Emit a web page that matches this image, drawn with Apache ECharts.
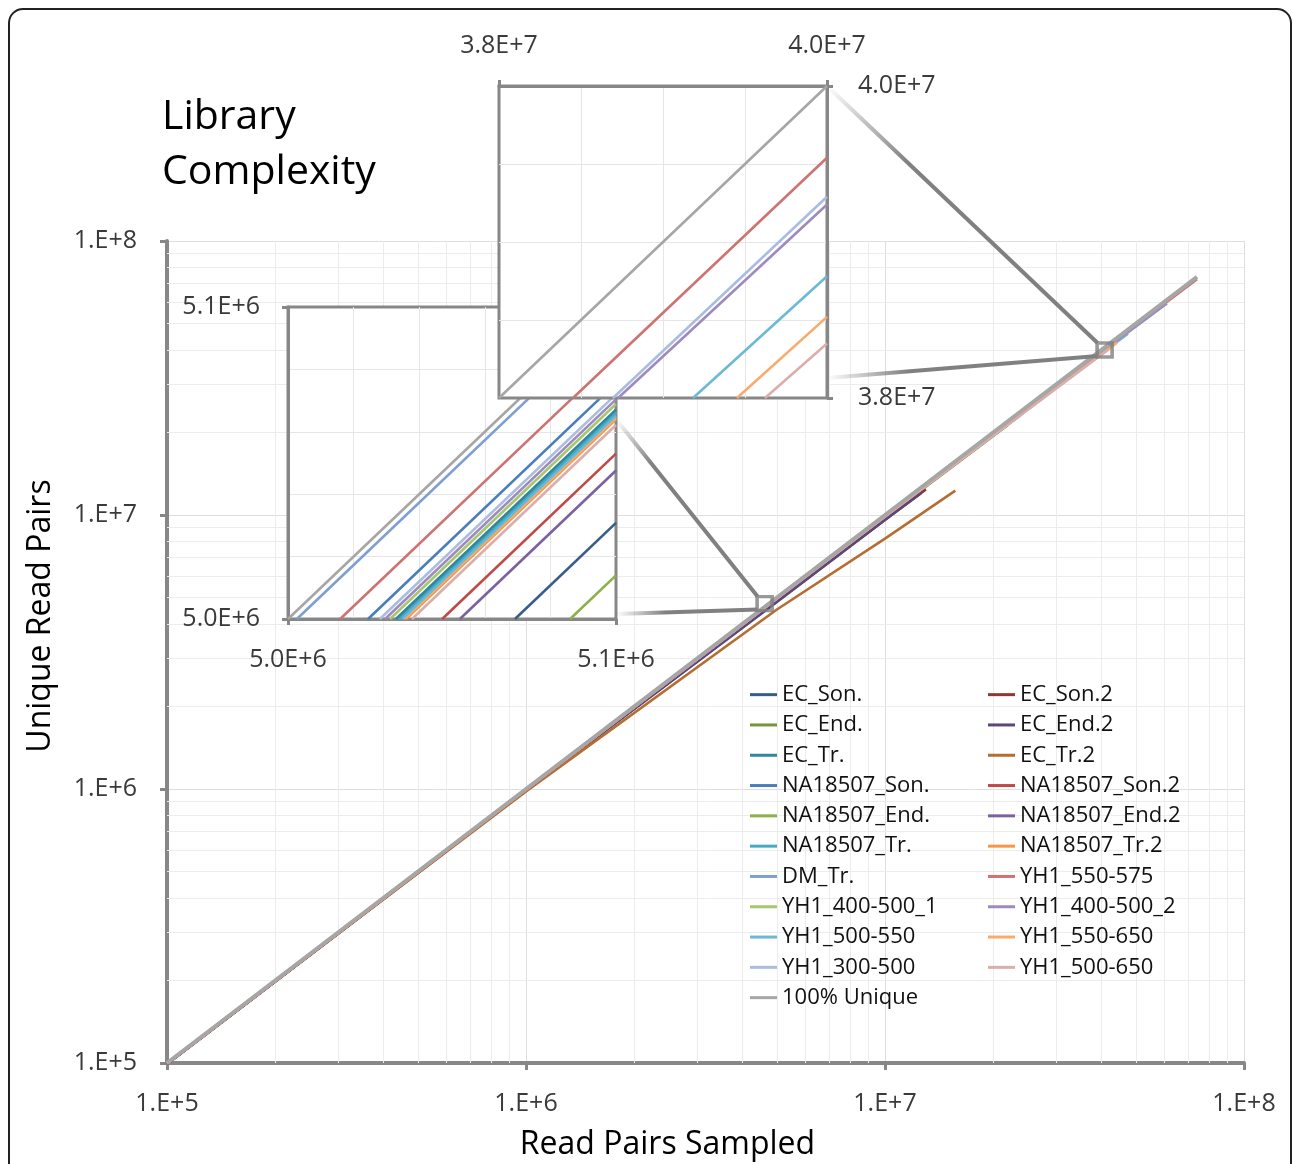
<!DOCTYPE html>
<html>
<head>
<meta charset="utf-8">
<title>Library Complexity</title>
<script src="https://cdn.jsdelivr.net/npm/echarts@6/dist/echarts.min.js"></script>
<style>
  html, body { margin: 0; padding: 0; background: #fff; }
  #chart { width: 1293px; height: 1164px; }
</style>
</head>
<body>
<div id="chart"></div>
<script>
// legend order: column 1 then column 2
const seriesNames = [
  'EC_Son.', 'EC_End.', 'EC_Tr.', 'NA18507_Son.', 'NA18507_End.', 'NA18507_Tr.',
  'DM_Tr.', 'YH1_400-500_1', 'YH1_500-550', 'YH1_300-500', '100% Unique',
  'EC_Son.2', 'EC_End.2', 'EC_Tr.2', 'NA18507_Son.2', 'NA18507_End.2', 'NA18507_Tr.2',
  'YH1_550-575', 'YH1_400-500_2', 'YH1_550-650', 'YH1_500-650'
];
const seriesColors = [
  '#385d8a', '#77933c', '#31859c', '#4a7ebb', '#8db04a', '#46aac5',
  '#7d9fd3', '#a6c76e', '#6cb9d5', '#aabde0', '#a6a6a6',
  '#8c3836', '#5c4776', '#b66d31', '#be4b48', '#7d60a0', '#f79646',
  '#cd7371', '#9e8bbe', '#f9ab6e', '#dbaeac'
];

// [read pairs sampled, unique read pairs], same order as seriesNames
const curves = [
  [[1e5, 99400], [1e6, 993000], [5e6, 4931000], [1e7, 9820000], [1.1e7, 10790000]],
  [[1e5, 99200], [1e6, 990000], [5e6, 4870000], [9.5e6, 9180000]],
  [[1e5, 99600], [1e6, 995500], [5e6, 4967000], [1e7, 9890000], [1.4e7, 13800000]],
  [[1e5, 99800], [1e6, 997500], [5e6, 4976000], [1e7, 9905000], [2.6e7, 25500000]],
  [[1e5, 99300], [1e6, 992000], [5e6, 4914000], [1e7, 9800000], [2.2e7, 21300000]],
  [[1e5, 99700], [1e6, 996500], [5e6, 4967000], [1e7, 9900000], [3.0e7, 29300000]],
  [[1e5, 99990], [1e6, 999500], [5e6, 4997300], [1e7, 9990000], [2.4e7, 23900000]],
  [[1e5, 99700], [1e6, 996800], [5e6, 4968000], [1e7, 9900000], [3.4e7, 33100000]],
  [[1e5, 99700], [1e6, 996500], [5e6, 4966000], [1e7, 9890000], [4e7, 38780000], [4.75e7, 45900000]],
  [[1e5, 99750], [1e6, 997000], [5e6, 4972000], [1e7, 9920000], [4e7, 39290000], [5.6e7, 54600000]],
  [[1e5, 1e5], [1e6, 1e6], [1e7, 1e7], [7.4e7, 7.4e7]],
  [[1e5, 99000], [1e6, 988000], [5e6, 4850000], [1e7, 9620000], [1.3e7, 12400000]],
  [[1e5, 99300], [1e6, 990000], [5e6, 4820000], [1e7, 9590000], [1.26e7, 12000000]],
  [[1e5, 99800], [1e6, 980000], [5e6, 4520000], [1e7, 8200000], [1.57e7, 12270000]],
  [[1e5, 99600], [1e6, 995000], [5e6, 4953000], [1e7, 9880000], [2.8e7, 27200000]],
  [[1e5, 99500], [1e6, 994500], [5e6, 4948000], [1e7, 9860000], [2.4e7, 23300000]],
  [[1e5, 99700], [1e6, 996400], [5e6, 4964000], [1e7, 9890000], [3.2e7, 31200000]],
  [[1e5, 99900], [1e6, 998400], [5e6, 4984000], [1e7, 9960000], [4e7, 39540000], [7.4e7, 72500000]],
  [[1e5, 99700], [1e6, 997000], [5e6, 4970000], [1e7, 9915000], [4e7, 39240000], [6.1e7, 59200000]],
  [[1e5, 99650], [1e6, 996500], [5e6, 4965000], [1e7, 9880000], [4e7, 38520000], [4.43e7, 42500000]],
  [[1e5, 99600], [1e6, 996000], [5e6, 4962000], [1e7, 9870000], [4e7, 38350000], [4.2e7, 40200000]]
];

// zoom 1: 5.0E+6 .. 5.1E+6
const zoom1Range = [5.0e6, 5.1e6];
const zoom1Names = ['NA18507_End.', 'EC_Son.', 'NA18507_End.2', 'NA18507_Son.2', 'YH1_500-650',
  'NA18507_Tr.2', 'YH1_550-650', 'YH1_500-550', 'NA18507_Tr.', 'EC_Tr.', 'YH1_400-500_1',
  'YH1_400-500_2', 'YH1_300-500', 'NA18507_Son.', 'YH1_550-575', 'DM_Tr.', '100% Unique'];
const zoom1StartReads = [5086000, 5069200, 5052400, 5047000, 5037800,
  5036000, 5035400, 5034800, 5033800, 5032900, 5031100,
  5029600, 5028000, 5024400, 5015900, 5002700, 5000000];
const zoom1EndUnique = [5014000, 5030800, 5047600, 5053000, 5062200,
  5064000, 5064600, 5065200, 5066200, 5067100, 5068900,
  5070400, 5072000, 5075600, 5084100, 5097300, 5100000];

// zoom 2: 3.8E+7 .. 4.0E+7
const zoom2Range = [3.8e7, 4.0e7];
const zoom2Names = ['YH1_500-650', 'YH1_550-650', 'YH1_500-550', 'YH1_400-500_2',
  'YH1_300-500', 'YH1_550-575', '100% Unique'];
const zoom2StartReads = [39622000, 39451000, 39183000, 38726000, 38695000, 38451000, 38000000];
const zoom2EndUnique = [38350000, 38520000, 38780000, 39240000, 39290000, 39540000, 40000000];

// where the zoomed windows sit on the main chart
const zoomBoxes = [[4.62e6, 4.75e6], [4.09e7, 4.0e7]];

const FONT = '"Open Sans", "Noto Sans", sans-serif';
const AXIS_GREY = '#878787';

const chart = echarts.init(document.getElementById('chart'), null, { renderer: 'canvas' });

function expLabel(v) {
  const e = Math.round(Math.log10(v));
  return '1.E+' + e;
}
function sciLabel(v, range) {
  if (Math.abs(v - range[0]) > 1 && Math.abs(v - range[1]) > 1) return '';
  const e = Math.floor(Math.log10(v));
  return (v / Math.pow(10, e)).toFixed(1) + 'E+' + e;
}

// minor log gridlines (2..9 per decade)
const minorLines = [];
for (let d = 5; d < 8; d++) {
  for (let m = 2; m <= 9; m++) minorLines.push(m * Math.pow(10, d));
}

const colorOf = name => seriesColors[seriesNames.indexOf(name)];

const series = [];
series.push({
  type: 'line', name: 'minor-grid', xAxisIndex: 0, yAxisIndex: 0, data: [],
  silent: true, z: 1,
  markLine: {
    silent: true, symbol: 'none', animation: false, z: 1,
    label: { show: false },
    lineStyle: { color: '#ececec', width: 1, type: 'solid' },
    emphasis: { disabled: true },
    data: minorLines.map(v => ({ xAxis: v })).concat(minorLines.map(v => ({ yAxis: v })))
  }
});
curves.forEach((pts, i) => {
  if (seriesNames[i] === '100% Unique') return;
  series.push({
    type: 'line', name: seriesNames[i], xAxisIndex: 0, yAxisIndex: 0,
    data: pts, symbol: 'none', z: 2,
    color: seriesColors[i],
    lineStyle: { width: 2.6, color: seriesColors[i] }
  });
});
const uIdx = seriesNames.indexOf('100% Unique');
series.push({
  type: 'line', name: '100% Unique', xAxisIndex: 0, yAxisIndex: 0,
  data: curves[uIdx], symbol: 'none', z: 2,
  color: seriesColors[uIdx],
  lineStyle: { width: 4, color: seriesColors[uIdx] }
});
series.push({
  type: 'scatter', name: 'zoom-box', xAxisIndex: 0, yAxisIndex: 0,
  data: zoomBoxes, symbol: 'rect', symbolSize: [15, 14], z: 3, silent: true,
  itemStyle: { color: 'rgba(0,0,0,0)', borderColor: '#7f7f7f', borderWidth: 3.5 }
});
zoom1Names.forEach((name, i) => {
  series.push({
    type: 'line', name: name, xAxisIndex: 1, yAxisIndex: 1, z: 6,
    data: [[zoom1StartReads[i], zoom1Range[0]], [zoom1Range[1], zoom1EndUnique[i]]],
    symbol: 'none', color: colorOf(name),
    lineStyle: { width: 2.6, color: colorOf(name) }
  });
});
zoom2Names.forEach((name, i) => {
  series.push({
    type: 'line', name: name, xAxisIndex: 2, yAxisIndex: 2, z: 9,
    data: [[zoom2StartReads[i], zoom2Range[0]], [zoom2Range[1], zoom2EndUnique[i]]],
    symbol: 'none', color: colorOf(name),
    lineStyle: { width: 2.6, color: colorOf(name) }
  });
});

const tickLabel = { color: '#3a3a3a', fontSize: 25, fontFamily: FONT };

function insetAxis(idx, range, interval, position, z) {
  return {
    type: 'value', gridIndex: idx, position: position, min: range[0], max: range[1],
    interval: interval, z: z,
    axisLine: { show: true, onZero: false, lineStyle: { color: AXIS_GREY, width: 3 } },
    axisTick: { show: true, inside: false, length: 6, lineStyle: { color: AXIS_GREY, width: 3 } },
    minorTick: { show: false, splitNumber: idx === 1 ? 5 : 4 },
    splitLine: { show: false },
    minorSplitLine: { show: true, lineStyle: { color: '#e6e6e6', width: 1 } },
    axisLabel: Object.assign({
      margin: position === 'right' ? 31 : 28,
      formatter: v => sciLabel(v, range)
    }, tickLabel)
  };
}

const option = {
  animation: false,
  backgroundColor: '#fff',
  textStyle: { fontFamily: FONT },
  title: {
    text: 'Library\nComplexity', left: 157, top: 85,
    textStyle: { fontSize: 41, fontWeight: 'normal', color: '#000', lineHeight: 55, fontFamily: FONT }
  },
  grid: [
    { left: 167, top: 241, width: 1077, height: 822, z: 0, outerBoundsMode: 'none' },
    { left: 288, top: 307, width: 328, height: 312, z: 5, show: true, outerBoundsMode: 'none',
      backgroundColor: '#fff', borderColor: AXIS_GREY, borderWidth: 3 },
    { left: 499, top: 86, width: 328, height: 312, z: 8, show: true, outerBoundsMode: 'none',
      backgroundColor: '#fff', borderColor: AXIS_GREY, borderWidth: 3 }
  ],
  xAxis: [
    {
      type: 'log', logBase: 10, gridIndex: 0, min: 1e5, max: 1e8,
      name: 'Read Pairs Sampled', nameLocation: 'middle', nameGap: 66,
      nameTextStyle: { fontSize: 32, color: '#000', fontFamily: FONT, padding: [0, 76, 0, 0] },
      axisLine: { lineStyle: { color: AXIS_GREY, width: 4 } },
      axisTick: { length: 7, lineStyle: { color: AXIS_GREY, width: 3 } },
      splitLine: { show: true, lineStyle: { color: '#dedede', width: 1 } },
      axisLabel: Object.assign({ margin: 28, formatter: expLabel }, tickLabel)
    },
    insetAxis(1, zoom1Range, 1e5, 'bottom', 6),
    insetAxis(2, zoom2Range, 2e6, 'top', 9)
  ],
  yAxis: [
    {
      type: 'log', logBase: 10, gridIndex: 0, min: 1e5, max: 1e8,
      name: 'Unique Read Pairs', nameLocation: 'middle', nameGap: 110,
      nameTextStyle: { fontSize: 32, color: '#000', fontFamily: FONT, padding: [0, 0, 0, 72] },
      axisLine: { lineStyle: { color: AXIS_GREY, width: 4 } },
      axisTick: { length: 7, lineStyle: { color: AXIS_GREY, width: 3 } },
      splitLine: { show: true, lineStyle: { color: '#dedede', width: 1 } },
      axisLabel: Object.assign({ margin: 30, formatter: expLabel }, tickLabel)
    },
    insetAxis(1, zoom1Range, 1e5, 'left', 6),
    insetAxis(2, zoom2Range, 2e6, 'right', 9)
  ],
  legend: [
    {
      data: seriesNames.slice(0, 11), left: 750, top: 683, orient: 'vertical',
      icon: 'rect', itemWidth: 27, itemHeight: 3, itemGap: 7, padding: 0,
      textStyle: { fontSize: 22, color: '#111', lineHeight: 23.3, fontFamily: FONT }
    },
    {
      data: seriesNames.slice(11), left: 988, top: 683, orient: 'vertical',
      icon: 'rect', itemWidth: 27, itemHeight: 3, itemGap: 7, padding: 0,
      textStyle: { fontSize: 22, color: '#111', lineHeight: 23.3, fontFamily: FONT }
    }
  ],
  series: series
};

chart.setOption(option);

// connector lines between zoomed windows and their boxes on the main chart
function px(axisIdx, pt) {
  return chart.convertToPixel({ xAxisIndex: axisIdx, yAxisIndex: axisIdx }, pt);
}
function fadeLine(a, b, fadeEnd) {
  const grad = new echarts.graphic.LinearGradient(a[0], a[1], b[0], b[1], [
    { offset: 0, color: 'rgba(128,128,128,0)' },
    { offset: fadeEnd, color: 'rgba(128,128,128,1)' },
    { offset: 1, color: 'rgba(128,128,128,1)' }
  ], true);
  return {
    type: 'line', z: 12, silent: true,
    shape: { x1: a[0], y1: a[1], x2: b[0], y2: b[1] },
    style: { stroke: grad, lineWidth: 4 }
  };
}
const box1 = px(0, zoomBoxes[0]);
const box2 = px(0, zoomBoxes[1]);
const z1Top = px(1, [zoom1Range[1], 5.064e6]);
const z1Bot = px(1, [zoom1Range[1], 5.0016e6]);
const z2Top = px(2, [zoom2Range[1], zoom2Range[1]]);
const z2Bot = px(2, [zoom2Range[1], 3.8128e7]);

chart.setOption({
  graphic: [
    {
      type: 'rect', z: 20, silent: true,
      shape: { x: 9, y: 9, width: 1282, height: 1220, r: 14 },
      style: { fill: 'none', stroke: '#222', lineWidth: 2 }
    },
    fadeLine(z1Top, [box1[0] - 7, box1[1] - 7], 0.25),
    fadeLine(z1Bot, [box1[0] - 7, box1[1] + 6], 0.35),
    fadeLine(z2Top, [box2[0] - 7, box2[1] - 7], 0.3),
    fadeLine(z2Bot, [box2[0] - 7, box2[1] + 6], 0.3)
  ]
});

window.onresize = function () {
  chart.resize();
};
</script>
</body>
</html>
